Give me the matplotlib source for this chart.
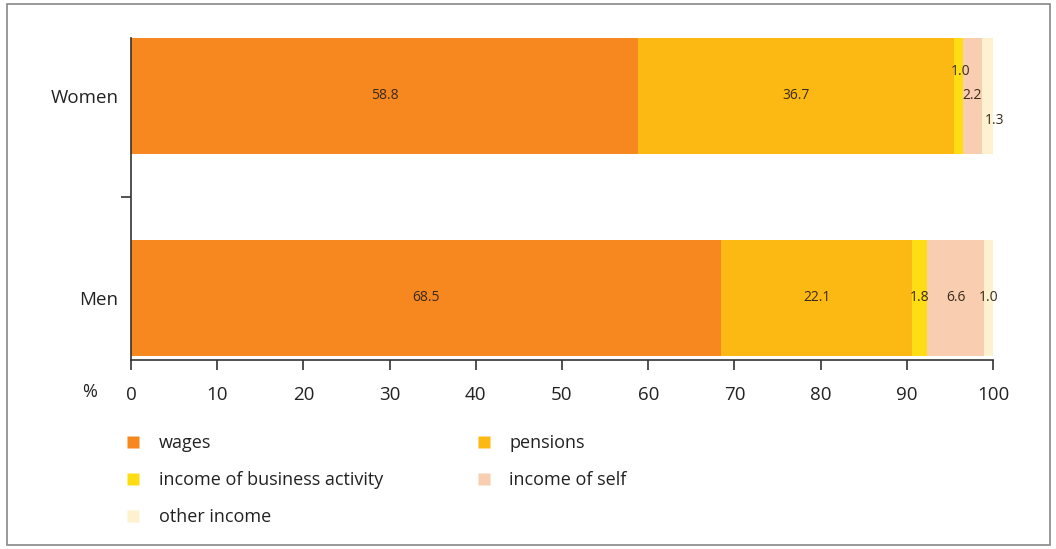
import matplotlib
matplotlib.use("Agg")
import matplotlib.pyplot as plt
from matplotlib.lines import Line2D
from matplotlib.patches import Rectangle

categories = ["Women", "Men"]
series_names = ["wages", "pensions", "income of business activity", "income of self", "other income"]
women = [58.8, 36.7, 1.0, 2.2, 1.3]
men = [68.5, 22.1, 1.8, 6.6, 1.0]
value_labels_women = ["58.8", "36.7", "1.0", "2.2", "1.3"]
value_labels_men = ["68.5", "22.1", "1.8", "6.6", "1.0"]
xticks = [0, 10, 20, 30, 40, 50, 60, 70, 80, 90, 100]

colors = ["#F7871F", "#FDB913", "#FFDD15", "#F8CDB0", "#FDF1CF"]

plt.rcParams['font.family'] = ['Open Sans', 'DejaVu Sans']

fig = plt.figure(figsize=(10.56, 5.49), dpi=100)
ax = fig.add_axes([131/1056, 1-360/549, (993-131)/1056, (360-38)/549])

ypos = {"Women": 1.0, "Men": 0.0}
data = {"Women": women, "Men": men}
labels = {"Women": value_labels_women, "Men": value_labels_men}
# label offsets (style only) for women's narrow segments
women_dy = [0, 0, 0.12, 0, -0.12]
women_dx = [0, 0, 0.2, 0, 0.8]

for cat in categories:
    left = 0.0
    vals = data[cat]
    for i, v in enumerate(vals):
        ax.barh(ypos[cat], v, left=left, height=0.57, color=colors[i], edgecolor='none')
        cx = left + v / 2
        dy = women_dy[i] if cat == "Women" else 0
        dx = women_dx[i] if cat == "Women" else 0
        ax.text(cx + dx, ypos[cat] + dy, labels[cat][i], ha='center', va='center',
                fontsize=10, color='#3a2a1a')
        left += v

ax.set_xlim(0, 100)
ax.set_ylim(-0.307, 1.287)
ax.set_xticks(xticks)
ax.set_xticklabels([str(t) for t in xticks], fontsize=13.5, color='#222222')
ax.set_yticks([0, 1])
ax.set_yticklabels(["Men", "Women"], fontsize=13.5, color='#222222')
ax.set_yticks([0.5], minor=True)
for s in ['top', 'right']:
    ax.spines[s].set_visible(False)
for s in ['left', 'bottom']:
    ax.spines[s].set_color('#333333')
    ax.spines[s].set_linewidth(1.2)
ax.tick_params(axis='x', direction='out', length=7, color='#333333', width=1.2, pad=12)
ax.tick_params(axis='y', which='major', length=0, pad=9)
ax.tick_params(axis='y', which='minor', direction='out', length=7, color='#333333', width=1.2)

fig.text(90/1056, 1-392/549, "%", fontsize=13, color='#222222', ha='center', va='center')

order = [0, 2, 4, 1, 3]
handles = [Line2D([0], [0], marker='s', linestyle='none', markersize=8,
                  markerfacecolor=colors[i], markeredgecolor='none') for i in order]
leg = fig.legend(handles, [series_names[i] for i in order], ncol=2,
                 loc='upper left', bbox_to_anchor=(110/1056, 1-418/549),
                 frameon=False, fontsize=13, handlelength=0.8, handletextpad=1.0,
                 columnspacing=5.2, labelspacing=1.05)
for t in leg.get_texts():
    t.set_color('#222222')

fig.patches.append(Rectangle((7/1056, 4/549), 1043/1056, 541/549, transform=fig.transFigure,
                             fill=False, edgecolor='#888888', linewidth=1.2))

fig.savefig("out.png", dpi=100)
